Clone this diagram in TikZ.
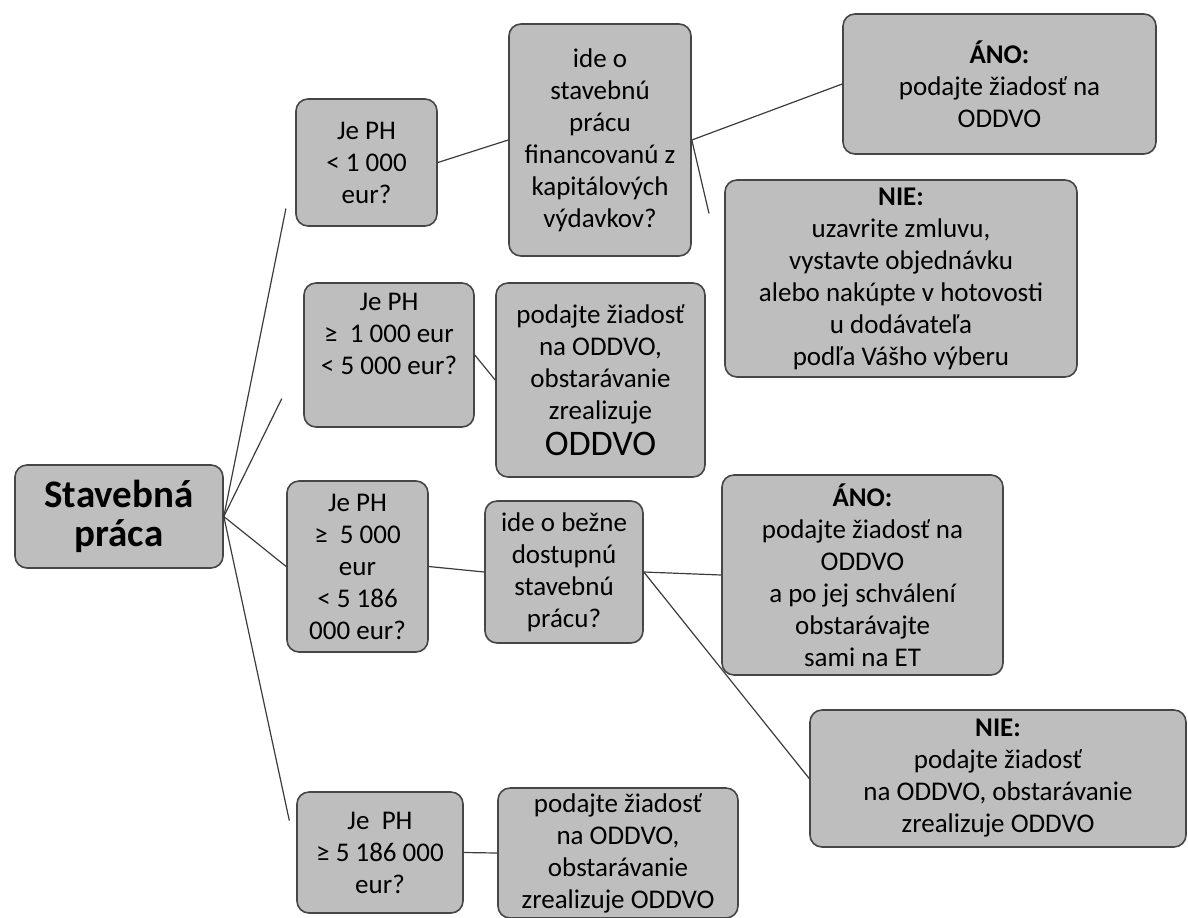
\documentclass[tikz,border=0pt]{standalone}
\usepackage{fontspec}
\setmainfont{Carlito}
\usetikzlibrary{calc}
\definecolor{boxfill}{RGB}{190,190,190}
\definecolor{boxline}{RGB}{70,70,70}
\definecolor{linkcol}{RGB}{60,60,60}
\tikzset{
  box/.style={draw=boxline, line width=0.8pt, fill=boxfill, rounded corners=6pt,
    align=center, inner sep=0pt, font=\fontsize{13.5pt}{16pt}\selectfont},
  conn/.style={draw=linkcol, line width=0.6pt}
}
\begin{document}
\begin{tikzpicture}[x=0.5pt,y=-0.5pt]
\useasboundingbox (0,0) rectangle (1188,917);
\node[box, minimum width=104pt, minimum height=51.5pt, font=\bfseries\fontsize{19.5pt}{19.5pt}\selectfont] (root) at (119,516.5) {Stavebná\\práca};
\node[box, minimum width=70.5pt, minimum height=63.5pt] (a) at (366.5,162.5) {Je PH\\< 1 000\\eur?};
\node[box, minimum width=91pt, minimum height=116pt] (ideo) at (600,140) {ide o\\stavebnú\\prácu\\financovanú z\\kapitálových\\výdavkov?};
\node[box, minimum width=156.5pt, minimum height=70pt] (ano1) at (999.5,84) {\textbf{ÁNO:}\\podajte žiadosť na\\ODDVO};
\node[box, minimum width=176pt, minimum height=98.5pt] (nie1) at (901,278.5) {\textbf{NIE:}\\uzavrite zmluvu,\\vystavte objednávku\\alebo nakúpte v hotovosti\\u dodávateľa\\podľa Vášho výberu};
\node[box, minimum width=85pt, minimum height=72pt] (b) at (389,355) {Je PH\\≥~~1 000 eur\\< 5 000 eur?\\\strut};
\node[box, minimum width=104.5pt, minimum height=97pt] (bres) at (600.5,380) {podajte žiadosť\\na ODDVO,\\obstarávanie\\zrealizuje\\[2pt]{\fontsize{18pt}{20pt}\selectfont ODDVO}};
\node[box, minimum width=70.5pt, minimum height=85.5pt] (c) at (357.5,566.5) {Je PH\\≥~~5 000\\eur\\< 5 186\\000 eur?};
\node[box, minimum width=79pt, minimum height=71pt] (cq) at (564,572) {ide o bežne\\dostupnú\\stavebnú\\prácu?};
\node[box, minimum width=140.5pt, minimum height=100pt] (ano2) at (862.5,575) {\textbf{ÁNO:}\\podajte žiadosť na\\ODDVO\\a po jej schválení\\obstarávajte\\sami na ET};
\node[box, minimum width=188pt, minimum height=68.5pt] (nie2) at (998,778.5) {\textbf{NIE:}\\podajte žiadosť\\na ODDVO, obstarávanie\\zrealizuje ODDVO};
\node[box, minimum width=83pt, minimum height=60.5pt] (d) at (380,852.5) {Je~~PH\\≥ 5 186 000\\eur?};
\node[box, minimum width=120pt, minimum height=65pt] (dres) at (618,853) {podajte žiadosť\\na ODDVO,\\obstarávanie\\zrealizuje ODDVO};
% connectors
\draw[conn] (root.east) -- ($(root.east)!0.87!(a.west)$);
\draw[conn] (root.east) -- ($(root.east)!0.73!(b.west)$);
\draw[conn] (root.east) -- (c.west);
\draw[conn] (root.east) -- ($(root.east)!0.905!(d.west)$);
\draw[conn] (a.east) -- (ideo.west);
\draw[conn] (ideo.east) -- (ano1.west);
\draw[conn] (ideo.east) -- ($(ideo.east)!0.53!(nie1.west)$);
\draw[conn] (b.east) -- (bres.west);
\draw[conn] (c.east) -- (cq.west);
\draw[conn] (cq.east) -- (ano2.west);
\draw[conn] (cq.east) -- (nie2.west);
\draw[conn] (d.east) -- (dres.west);
\end{tikzpicture}
\end{document}
